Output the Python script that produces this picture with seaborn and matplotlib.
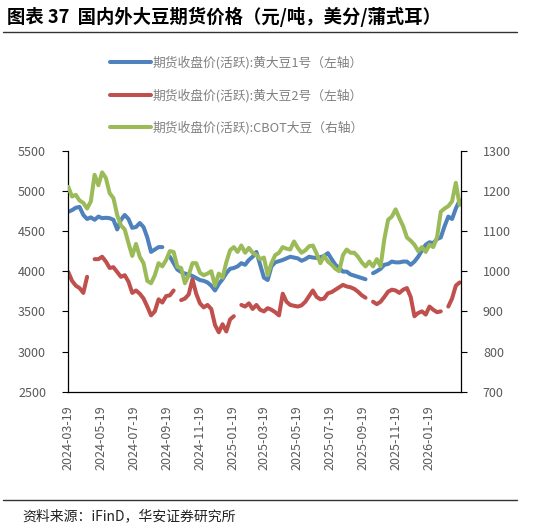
import numpy as np
import pandas as pd
import matplotlib
matplotlib.use("Agg")
import matplotlib.pyplot as plt
import seaborn as sns
from matplotlib.lines import Line2D

# -----------------------------
# data (weekly readings, NaN = gap in the source line)
# -----------------------------
start_date = "2024-03-19"
n_weeks = 105

# 黄大豆1号, 元/吨 (left axis)
soy1 = [4740, 4760, 4790, 4800, 4700, 4650, 4670, 4640, 4680, 4660,
        4665, 4660, 4640, 4520, 4640, 4700, 4650, 4540, 4550, 4600,
        4550, 4420, 4240, 4270, 4300, 4300, np.nan, 4180, 4100, 4020,
        3990, 3970, 3960, 3940, 3915, 3890, 3880, 3860, 3820, 3760,
        3840, 3900, 3975, 4030, 4040, 4060, 4100, 4080, 4140, 4180,
        4240, 4080, 3920, 3890, 4060, 4110, 4125, 4140, 4160, 4180,
        4170, 4160, 4130, 4150, 4180, 4170, 4165, 4175, 4190, 4225,
        4150, 4080, 4040, 3995, 3995, 3960, 3945, 3930, 3915, 3900,
        np.nan, 3975, 4000, 4030, 4080, 4090, 4120, 4110, 4110, 4120,
        4120, 4080, 4120, 4180, 4260, 4330, 4360, 4350, 4400, 4420,
        4560, 4680, 4650, 4780, 4880]

# 黄大豆2号, 元/吨 (left axis)
soy2 = [3990, 3880, 3820, 3790, 3730, 3930, np.nan, 4150, 4150, 4180,
        4120, 4040, 4050, 3990, 3930, 3950, 3870, 3730, 3760, 3720,
        3660, 3560, 3450, 3500, 3650, 3610, 3690, 3700, 3760, np.nan,
        3640, 3660, 3710, 3900, 3720, 3600, 3550, 3580, 3530, 3330,
        3240, 3340, 3250, 3400, 3440, np.nan, 3580, 3560, 3600, 3530,
        3580, 3520, 3500, 3540, 3520, 3490, 3450, 3720, 3620, 3580,
        3570, 3560, 3575, 3620, 3690, 3760, 3680, 3650, 3660, 3725,
        3740, 3770, 3800, 3830, 3810, 3800, 3780, 3745, 3700, 3670,
        np.nan, 3620, 3590, 3620, 3680, 3745, 3770, 3760, 3730, 3770,
        3790, 3680, 3440, 3480, 3500, 3460, 3560, 3520, 3490, 3500,
        np.nan, 3560, 3660, 3820, 3860]

# CBOT大豆, 美分/蒲式耳 (right axis)
cbot = [1210, 1186, 1190, 1176, 1170, 1156, 1174, 1240, 1214, 1246,
        1232, 1194, 1182, 1140, 1114, 1104, 1070, 1038, 1068, 1036,
        1020, 976, 970, 990, 1020, 1012, 1028, 1050, 1048, 1011,
        1008, 970, 990, 1020, 1020, 996, 990, 994, 1000, 964,
        994, 984, 1022, 1052, 1060, 1048, 1064, 1046, 1058, 1046,
        1040, 1030, 1034, 990, 1020, 1040, 1046, 1060, 1056, 1054,
        1074, 1058, 1046, 1052, 1062, 1064, 1044, 1020, 1038, 1024,
        1016, 1006, 1000, 1040, 1054, 1046, 1046, 1036, 1022, 1012,
        1024, 1012, 1030, 1012, 1080, 1128, 1136, 1154, 1132, 1112,
        1084, 1076, 1066, 1050, 1060, 1048, 1066, 1060, 1084, 1148,
        1156, 1162, 1174, 1220, 1165]

tick_dates = ["2024-03-19", "2024-05-19", "2024-07-19", "2024-09-19",
              "2024-11-19", "2025-01-19", "2025-03-19", "2025-05-19",
              "2025-07-19", "2025-09-19", "2025-11-19", "2026-01-19",
              "2026-03-19"]

labels = ["期货收盘价(活跃):黄大豆1号（左轴）",
          "期货收盘价(活跃):黄大豆2号（左轴）",
          "期货收盘价(活跃):CBOT大豆（右轴）"]
colors = ["#4f81bd", "#c0504d", "#9bbb59"]

# -----------------------------
# style
# -----------------------------
sns.set_style("white")
plt.rcParams['font.family'] = ['Noto Sans CJK SC', 'DejaVu Sans']
plt.rcParams['axes.unicode_minus'] = False

dates = pd.date_range(start_date, periods=n_weeks, freq="7D")


def segments(values):
    # split a series at its NaN points so the gaps stay visible
    d = pd.DataFrame({"date": dates, "v": values})
    d["seg"] = d["v"].isna().cumsum()
    return d.dropna()


fig = plt.figure(figsize=(5.41, 5.31), dpi=100)
ax = fig.add_axes([0.1262, 0.2623, 0.7253, 0.4539])
ax2 = ax.twinx()

lw = 2.9
sns.lineplot(data=segments(soy1), x="date", y="v", units="seg", estimator=None,
             color=colors[0], linewidth=lw, ax=ax)
sns.lineplot(data=segments(soy2), x="date", y="v", units="seg", estimator=None,
             color=colors[1], linewidth=lw, ax=ax)
sns.lineplot(data=segments(cbot), x="date", y="v", units="seg", estimator=None,
             color=colors[2], linewidth=lw, ax=ax2)

# axes limits & ticks
ax.set_ylim(2500, 5500)
ax.set_yticks(np.arange(2500, 5501, 500))
ax2.set_ylim(700, 1300)
ax2.set_yticks(np.arange(700, 1301, 100))
ax.set_xlim(pd.Timestamp(tick_dates[0]), pd.Timestamp(tick_dates[-1]))
ax.set_xticks(pd.to_datetime(tick_dates))
ax.set_xticklabels(tick_dates[:-1] + [""], rotation=90)

for a in (ax, ax2):
    a.set_xlabel("")
    a.set_ylabel("")
    a.grid(False)
    for s in a.spines.values():
        s.set_visible(False)
    a.tick_params(direction="out", length=4, width=0.8, color="black",
                  labelcolor="#595959", labelsize=9)

ax.spines["left"].set_visible(True)
ax.spines["bottom"].set_visible(True)
ax2.spines["right"].set_visible(True)
for s in ("left", "bottom"):
    ax.spines[s].set_color("black")
    ax.spines[s].set_linewidth(0.9)
ax2.spines["right"].set_color("black")
ax2.spines["right"].set_linewidth(0.9)
ax.tick_params(axis="y", pad=12)
ax2.tick_params(axis="y", pad=12)
ax.tick_params(axis="x", pad=6)

# legend
handles = [Line2D([0], [0], color=c, linewidth=lw) for c in colors]
fig.legend(handles, labels, loc="upper left", bbox_to_anchor=(0.2035, 0.894),
           frameon=False, fontsize=9.2, labelcolor="#808080",
           handlelength=3.2, handletextpad=0.15, labelspacing=1.45,
           borderpad=0, borderaxespad=0)

# title, rules and source
fig.text(0.013, 0.968, "图表 37  国内外大豆期货价格（元/吨，美分/蒲式耳）",
         fontsize=13.2, fontweight="bold", color="black", va="center", ha="left")
fig.add_artist(Line2D([0.0055, 0.956], [0.940, 0.940], color="#333333", linewidth=1.0))
fig.add_artist(Line2D([0.0055, 0.956], [0.0584, 0.0584], color="#333333", linewidth=1.0))
fig.text(0.041, 0.028, "资料来源：iFinD，华安证券研究所", fontsize=10,
         color="#222222", va="center", ha="left")

fig.savefig("out.png", dpi=100)
